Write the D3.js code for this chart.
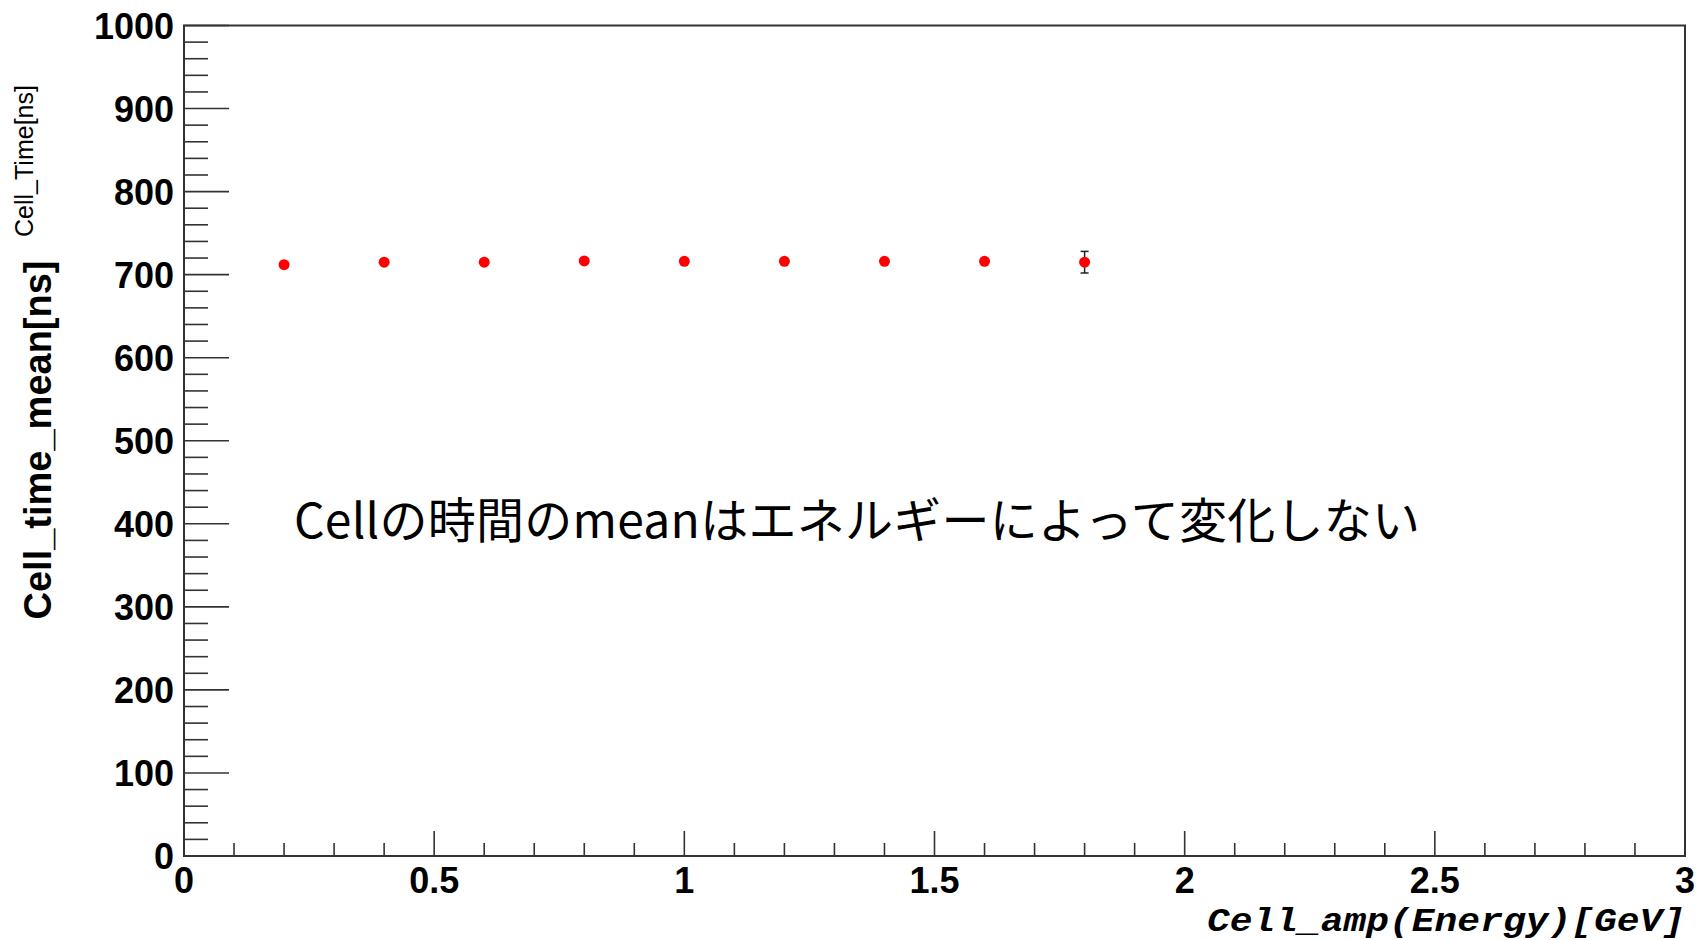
<!DOCTYPE html>
<html>
<head>
<meta charset="utf-8">
<script src="https://cdn.jsdelivr.net/npm/d3@7"></script>
<style>
  html, body { margin: 0; padding: 0; background: #fff; }
  svg { display: block; }
</style>
</head>
<body>
<svg id="chart" width="1697" height="940"></svg>
<script>
// Mean cell time per energy bin
const energyGeV = [0.2, 0.4, 0.6, 0.8, 1.0, 1.2, 1.4, 1.6, 1.8];
const meanTimeNs = [712, 715, 715, 716.5, 716, 716, 716, 716, 715];
const errTimeNs = [0.5, 0.5, 0.5, 0.5, 0.5, 0.5, 0.5, 0.5, 13];

const xMajorTicks = [0, 0.5, 1, 1.5, 2, 2.5, 3];
const xTickLabels = ["0", "0.5", "1", "1.5", "2", "2.5", "3"];
const yMajorTicks = [0, 100, 200, 300, 400, 500, 600, 700, 800, 900, 1000];
const yTickLabels = ["0", "100", "200", "300", "400", "500", "600", "700", "800", "900", "1000"];

const xTitle = "Cell_amp(Energy)[GeV]";
const yTitle = "Cell_time_mean[ns]";
const yTitleSmall = "Cell_Time[ns]";
const note = "Cellの時間のmeanはエネルギーによって変化しない";

const svg = d3.select("#chart");
const frame = { left: 184, right: 1685, top: 25.5, bottom: 856 };
const axisColor = "#333";

const x = d3.scaleLinear().domain([0, 3]).range([frame.left, frame.right]);
const y = d3.scaleLinear().domain([0, 1000]).range([frame.bottom, frame.top]);

// frame box
svg.append("rect")
  .attr("x", frame.left).attr("y", frame.top)
  .attr("width", frame.right - frame.left)
  .attr("height", frame.bottom - frame.top)
  .attr("fill", "none").attr("stroke", axisColor).attr("stroke-width", 2);

// y ticks drawn inward from the left edge
const yMinor = d3.range(0, 1000.01, 20).filter(v => v % 100 !== 0);
svg.append("g").selectAll("line").data(yMinor).join("line")
  .attr("x1", frame.left).attr("x2", frame.left + 24)
  .attr("y1", d => y(d)).attr("y2", d => y(d))
  .attr("stroke", axisColor).attr("stroke-width", 1.6);
svg.append("g").selectAll("line").data(yMajorTicks).join("line")
  .attr("x1", frame.left).attr("x2", frame.left + 45)
  .attr("y1", d => y(d)).attr("y2", d => y(d))
  .attr("stroke", axisColor).attr("stroke-width", 1.6);

// x ticks drawn upward from the bottom edge
const xMinor = d3.range(0, 3.001, 0.1).map(v => +v.toFixed(2)).filter(v => Math.abs(v * 2 - Math.round(v * 2)) > 1e-6);
svg.append("g").selectAll("line").data(xMinor).join("line")
  .attr("x1", d => x(d)).attr("x2", d => x(d))
  .attr("y1", frame.bottom).attr("y2", frame.bottom - 13)
  .attr("stroke", axisColor).attr("stroke-width", 1.6);
svg.append("g").selectAll("line").data(xMajorTicks).join("line")
  .attr("x1", d => x(d)).attr("x2", d => x(d))
  .attr("y1", frame.bottom).attr("y2", frame.bottom - 25)
  .attr("stroke", axisColor).attr("stroke-width", 1.6);

const labelFont = "'Liberation Sans', Arial, Helvetica, sans-serif";

// y tick labels
svg.append("g").selectAll("text").data(yMajorTicks).join("text")
  .attr("x", frame.left - 10)
  .attr("y", d => y(d) + 13)
  .attr("text-anchor", "end")
  .attr("font-family", labelFont).attr("font-weight", "bold").attr("font-size", 36)
  .attr("fill", "#000")
  .text((d, i) => yTickLabels[i]);

// x tick labels
svg.append("g").selectAll("text").data(xMajorTicks).join("text")
  .attr("x", d => x(d))
  .attr("y", 893)
  .attr("text-anchor", "middle")
  .attr("font-family", labelFont).attr("font-weight", "bold").attr("font-size", 36)
  .attr("fill", "#000")
  .text((d, i) => xTickLabels[i]);

// axis titles
svg.append("text")
  .attr("x", frame.right).attr("y", 931)
  .attr("text-anchor", "end")
  .attr("font-family", "'Courier New', 'Liberation Mono', monospace")
  .attr("font-style", "italic").attr("font-weight", "bold")
  .attr("font-size", 34)
  .attr("textLength", 478).attr("lengthAdjust", "spacingAndGlyphs")
  .attr("fill", "#000")
  .text(xTitle);

svg.append("text")
  .attr("transform", "translate(51,440) rotate(-90)")
  .attr("text-anchor", "middle")
  .attr("font-family", labelFont).attr("font-weight", "bold").attr("font-size", 38)
  .attr("fill", "#000")
  .text(yTitle);

svg.append("text")
  .attr("transform", "translate(33,161) rotate(-90)")
  .attr("text-anchor", "middle")
  .attr("font-family", labelFont).attr("font-size", 25)
  .attr("fill", "#000")
  .text(yTitleSmall);

// data points with error bars
const pts = energyGeV.map((e, i) => ({ e, t: meanTimeNs[i], err: errTimeNs[i] }));
const gPts = svg.append("g");
gPts.selectAll("line.err").data(pts).join("line")
  .attr("class", "err")
  .attr("x1", d => x(d.e)).attr("x2", d => x(d.e))
  .attr("y1", d => y(d.t + d.err)).attr("y2", d => y(d.t - d.err))
  .attr("stroke", "#222").attr("stroke-width", 1.5);
gPts.selectAll("g.cap").data(pts.filter(d => d.err > 3)).join("g")
  .attr("class", "cap")
  .each(function (d) {
    const g = d3.select(this);
    [d.t + d.err, d.t - d.err].forEach(v => {
      g.append("line")
        .attr("x1", x(d.e) - 4).attr("x2", x(d.e) + 4)
        .attr("y1", y(v)).attr("y2", y(v))
        .attr("stroke", "#222").attr("stroke-width", 1.5);
    });
  });
gPts.selectAll("circle").data(pts).join("circle")
  .attr("cx", d => x(d.e)).attr("cy", d => y(d.t))
  .attr("r", 5.5)
  .attr("fill", "#ff0000");

// annotation
svg.append("text")
  .attr("x", 294).attr("y", 538)
  .attr("font-family", "'Noto Sans CJK JP', 'Noto Sans', sans-serif")
  .attr("font-size", 48)
  .attr("textLength", 1126).attr("lengthAdjust", "spacing")
  .attr("fill", "#000")
  .text(note);
</script>
</body>
</html>
